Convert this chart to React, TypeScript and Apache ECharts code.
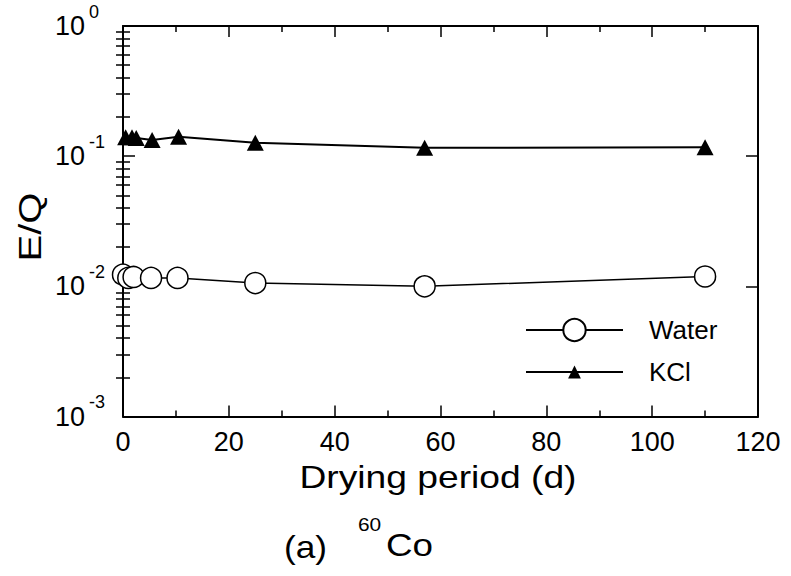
import React, { useEffect, useRef } from "react";
import * as echarts from "echarts";

const waterDays = [0, 1, 2, 5.3, 10.3, 25, 57, 110];
const waterEQ = [0.0123, 0.0116, 0.0118, 0.0116, 0.0116, 0.0106, 0.01, 0.0119];
const kclDays = [0.5, 1.7, 2.5, 5.5, 10.5, 25, 57, 110];
const kclEQ = [0.14, 0.14, 0.138, 0.133, 0.141, 0.127, 0.116, 0.117];
const seriesNames = ["Water", "KCl"];
const xTicks = { min: 0, max: 120, interval: 20 };
const yDecades = { min: 0.001, max: 1 };
const minorMultipliers = [2, 3, 4, 5, 6, 7, 8, 9];
const minorDecades = [0.001, 0.01, 0.1];

const FONT = "'Liberation Sans', Arial, Helvetica, sans-serif";

export default function App() {
  const ref = useRef<HTMLDivElement>(null);
  useEffect(() => {
    if (!ref.current) return;
    const chart = echarts.init(ref.current, null, { renderer: "svg" });
    const minorY: number[] = [];
    minorDecades.forEach((d) => minorMultipliers.forEach((m) => minorY.push(m * d)));

    const yLabel = {
      show: true,
      align: "left",
      margin: 68,
      fontFamily: FONT,
      color: "#000",
      formatter: (v: number) => `{b|10}{s|${Math.round(Math.log10(v))}}`,
      rich: {
        b: { fontSize: 27, fontFamily: FONT, color: "#000" },
        s: { fontSize: 18, fontFamily: FONT, color: "#000", lineHeight: 18, padding: [0, 0, 29, 4] },
      },
    };

    const minorAxis = (pos: string) => ({
      type: "log",
      logBase: 10,
      min: yDecades.min,
      max: yDecades.max,
      position: pos,
      axisLine: { show: false },
      axisTick: { show: true, inside: true, length: 7, customValues: minorY, lineStyle: { color: "#000", width: 1.5 } },
      axisLabel: { show: false },
      splitLine: { show: false },
    });

    const option: any = {
      animation: false,
      backgroundColor: "#fff",
      grid: { left: 123, right: 33, top: 26, bottom: 159.5, containLabel: false },
      legend: [
        {
          data: [seriesNames[0]],
          left: 520,
          top: 312,
          itemWidth: 97,
          itemHeight: 28,
          textStyle: { fontSize: 26, fontFamily: FONT, color: "#000", padding: [0, 0, 0, 21] },
          selectedMode: false,
        },
        {
          data: [seriesNames[1]],
          left: 520,
          top: 354,
          itemWidth: 97,
          itemHeight: 16,
          textStyle: { fontSize: 26, fontFamily: FONT, color: "#000", padding: [0, 0, 0, 21] },
          selectedMode: false,
        },
      ],
      xAxis: [
        {
          type: "value",
          min: xTicks.min,
          max: xTicks.max,
          interval: xTicks.interval,
          position: "bottom",
          axisLine: { show: true, onZero: false, lineStyle: { color: "#000", width: 2 } },
          axisTick: { show: true, inside: true, length: 11, lineStyle: { color: "#000", width: 1.5 } },
          minorTick: { show: true, splitNumber: 2, length: 6, lineStyle: { color: "#000", width: 1.5 } },
          axisLabel: { fontSize: 27, fontFamily: FONT, color: "#000", margin: 12 },
          splitLine: { show: false },
        },
        {
          type: "value",
          min: xTicks.min,
          max: xTicks.max,
          interval: xTicks.interval,
          position: "top",
          axisLine: { show: true, onZero: false, lineStyle: { color: "#000", width: 2 } },
          axisTick: { show: true, inside: true, length: 11, lineStyle: { color: "#000", width: 1.5 } },
          minorTick: { show: true, splitNumber: 2, length: 6, lineStyle: { color: "#000", width: 1.5 } },
          axisLabel: { show: false },
          splitLine: { show: false },
        },
      ],
      yAxis: [
        {
          type: "log",
          logBase: 10,
          min: yDecades.min,
          max: yDecades.max,
          position: "left",
          axisLine: { show: true, onZero: false, lineStyle: { color: "#000", width: 2 } },
          axisTick: { show: true, inside: true, length: 12, lineStyle: { color: "#000", width: 1.5 } },
          axisLabel: yLabel,
          splitLine: { show: false },
        },
        {
          type: "log",
          logBase: 10,
          min: yDecades.min,
          max: yDecades.max,
          position: "right",
          axisLine: { show: true, onZero: false, lineStyle: { color: "#000", width: 2 } },
          axisTick: { show: true, inside: true, length: 12, lineStyle: { color: "#000", width: 1.5 } },
          axisLabel: { show: false },
          splitLine: { show: false },
        },
        minorAxis("left"),
        minorAxis("right"),
      ],
      series: [
        {
          name: seriesNames[0],
          type: "line",
          xAxisIndex: 0,
          yAxisIndex: 0,
          data: waterDays.map((d, i) => [d, waterEQ[i]]),
          symbol: "circle",
          symbolSize: 21,
          showAllSymbol: true,
          lineStyle: { color: "#000", width: 1.5 },
          itemStyle: { color: "#fff", borderColor: "#000", borderWidth: 1.5 },
          z: 3,
        },
        {
          name: seriesNames[1],
          type: "line",
          xAxisIndex: 0,
          yAxisIndex: 0,
          data: kclDays.map((d, i) => [d, kclEQ[i]]),
          symbol: "triangle",
          symbolSize: [17, 16],
          showAllSymbol: true,
          lineStyle: { color: "#000", width: 2 },
          itemStyle: { color: "#000", borderColor: "#000", borderWidth: 0 },
          z: 3,
        },
      ],
      graphic: [
        {
          type: "text",
          x: 30,
          y: 227,
          rotation: Math.PI / 2,
          scaleX: 1.25,
          style: { text: "E/Q", fontSize: 32, fontFamily: FONT, fill: "#000", align: "center", verticalAlign: "middle" },
        },
        {
          type: "text",
          x: 438,
          y: 477,
          scaleX: 1.2,
          style: { text: "Drying period (d)", fontSize: 31, fontFamily: FONT, fill: "#000", align: "center", verticalAlign: "middle" },
        },
        {
          type: "text",
          x: 284,
          y: 547,
          scaleX: 1.1,
          style: { text: "(a)", fontSize: 32, fontFamily: FONT, fill: "#000", align: "left", verticalAlign: "middle" },
        },
        {
          type: "text",
          x: 358,
          y: 524,
          scaleX: 1.1,
          style: { text: "60", fontSize: 19, fontFamily: FONT, fill: "#000", align: "left", verticalAlign: "middle" },
        },
        {
          type: "text",
          x: 386,
          y: 545,
          scaleX: 1.15,
          style: { text: "Co", fontSize: 32, fontFamily: FONT, fill: "#000", align: "left", verticalAlign: "middle" },
        },
      ],
    };
    chart.setOption(option);
    return () => chart.dispose();
  }, []);
  return <div ref={ref} style={{ width: 791, height: 576, position: "absolute", left: 0, top: 0 }} />;
}
